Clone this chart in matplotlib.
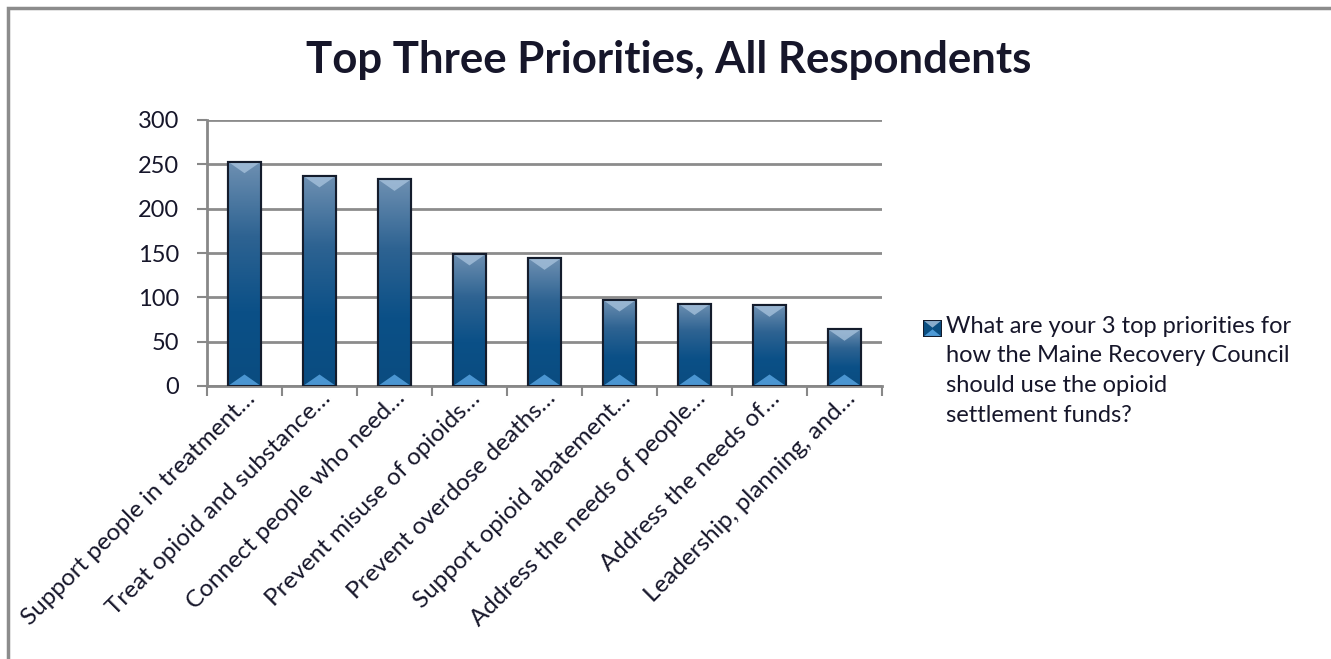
import numpy as np
import matplotlib.pyplot as plt
from matplotlib.patches import Rectangle
from matplotlib.colors import LinearSegmentedColormap

plt.rcParams['font.family'] = ['Lato', 'DejaVu Sans']
TXT = '#16162a'

# data
categories = ['Support people in treatment\u2026', 'Treat opioid and substance\u2026',
              'Connect people who need\u2026', 'Prevent misuse of opioids\u2026',
              'Prevent overdose deaths\u2026', 'Support opioid abatement\u2026',
              'Address the needs of people\u2026', 'Address the needs of\u2026',
              'Leadership, planning, and\u2026']
counts = [253, 237, 233, 149, 144, 97, 93, 91, 64]
series_name = ('What are your 3 top priorities for\nhow the Maine Recovery Council\n'
               'should use the opioid\nsettlement funds?')

fig = plt.figure(figsize=(13.31, 6.59), dpi=100)
ax = fig.add_axes([207/1331, 1 - 386/659, 675/1331, 266/659])

x = np.arange(len(categories))
bars = ax.bar(x, counts, width=0.44, color='#0b4f82', edgecolor='#141c2c',
              linewidth=1.5, zorder=3)

# vertical shading inside each bar
cmap = LinearSegmentedColormap.from_list('b', ['#0a4c80', '#0b5087', '#2e6392', '#6e90b2'])
grad = np.linspace(0, 1, 256).reshape(-1, 1)
for b in bars:
    x0, w, h = b.get_x(), b.get_width(), b.get_height()
    im = ax.imshow(grad, cmap=cmap, aspect='auto', origin='lower',
                   extent=(x0, x0 + w, 0, h), zorder=3.5, interpolation='bicubic')
    im.set_clip_path(b)
    # bevel triangles top and bottom
    d = 13
    ax.fill([x0, x0 + w, x0 + w/2], [h, h, h - d], color='#a9c4de', alpha=0.75,
            zorder=4, linewidth=0)
    ax.fill([x0, x0 + w, x0 + w/2], [0, 0, d], color='#4e9ad6', alpha=0.95,
            zorder=4, linewidth=0)
    ax.add_patch(Rectangle((x0, 0), w, h, fill=False, edgecolor='#141c2c',
                           linewidth=1.5, zorder=5))

ax.set_xlim(-0.5, len(categories) - 0.5)
ax.set_ylim(0, 300)
ax.set_yticks(range(0, 301, 50))
ax.tick_params(axis='y', labelsize=17, length=7, color='#888888', width=1.5,
               labelcolor=TXT, pad=13)
ax.yaxis.grid(True, color='#8c8c8c', linewidth=2, zorder=0)
ax.set_axisbelow(True)

ax.set_xticks(np.arange(-0.5, len(categories)), labels=[''] * (len(categories) + 1))
ax.tick_params(axis='x', which='major', length=7, color='#888888', width=1.5)
ax.set_xticks(x, labels=categories, minor=True)
ax.tick_params(axis='x', which='minor', length=0, labelsize=17.5, pad=1,
               labelcolor=TXT)
for t in ax.get_xticklabels(minor=True):
    t.set_rotation(45)
    t.set_ha('right')
    t.set_rotation_mode('anchor')

for s in ['top', 'right']:
    ax.spines[s].set_visible(False)
ax.spines['left'].set_color('#888888')
ax.spines['left'].set_linewidth(2)
ax.spines['bottom'].set_color('#888888')
ax.spines['bottom'].set_linewidth(2)

fig.text(669/1331, 1 - 60/659, 'Top Three Priorities, All Respondents',
         ha='center', va='center', fontsize=31.5, fontweight='bold', color=TXT)

# legend: bevelled square marker plus wrapped series name
mx, my = 923/1331, 1 - 337/659
lax = fig.add_axes([mx, my, 19/1331, 17/659])
lax.set_xlim(0, 1)
lax.set_ylim(0, 1)
lax.axis('off')
lax.add_patch(Rectangle((0, 0), 1, 1, color='#0b4f82'))
lax.fill([0, 1, 0.5], [1, 1, 0.55], color='#a9c4de', alpha=0.8, linewidth=0)
lax.fill([0, 1, 0.5], [0, 0, 0.45], color='#4e9ad6', linewidth=0)
lax.add_patch(Rectangle((0, 0), 1, 1, fill=False, edgecolor='#141c2c', linewidth=1.5))
fig.text(946/1331, 1 - 316/659, series_name, ha='left', va='top', fontsize=17,
         color=TXT, linespacing=1.5)

# outer chart border
fig.patches.append(Rectangle((8/1331, -0.05), 1.1, 1.05 - 8/659, fill=False,
                             edgecolor='#8c8c8c', linewidth=2.5,
                             transform=fig.transFigure, figure=fig))

fig.savefig('out.png', dpi=100)
